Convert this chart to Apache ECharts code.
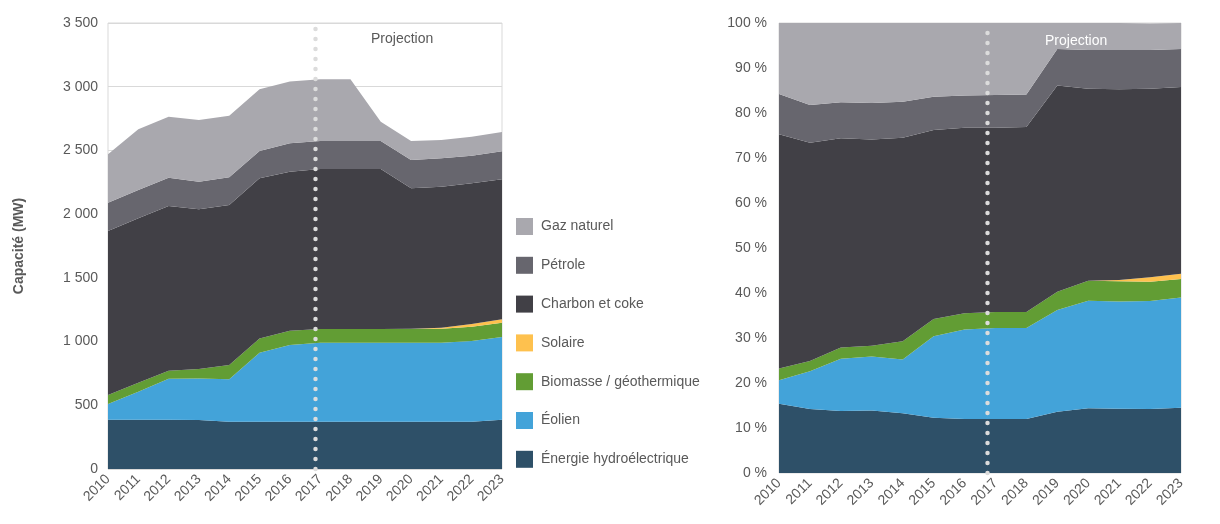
<!DOCTYPE html>
<html>
<head>
<meta charset="utf-8">
<script src="https://cdn.jsdelivr.net/npm/echarts@6/dist/echarts.min.js"></script>
<style>
	html, body { margin: 0; padding: 0; background: #fff; }
	#capaciteChart { width: 1220px; height: 524px; }
</style>
</head>
<body>
<div id="capaciteChart"></div>
<script>

var years = ['2010', '2011', '2012', '2013', '2014', '2015', '2016', '2017', '2018', '2019', '2020', '2021', '2022', '2023'];

// capacité en MW (graphique de gauche)
var hydro = [387, 387, 387, 385, 371, 371, 371, 371, 371, 371, 371, 371, 371, 387];
var eolien = [123, 220, 322, 326, 333, 542, 602, 619, 619, 619, 619, 619, 633, 649];
var biomasse = [71, 70, 62, 74, 112, 112, 112, 109, 109, 109, 110, 110, 113, 112];
var solaire = [0, 0, 0, 0, 0, 0, 0, 0, 0, 0, 0, 8, 20, 28];
var charbon = [1287, 1290, 1293, 1253, 1256, 1256, 1248, 1255, 1255, 1255, 1103, 1107, 1105, 1097];
var petrole = [222, 222, 222, 217, 217, 214, 223, 220, 220, 220, 222, 223, 217, 220];
var gaz = [380, 477, 479, 484, 484, 485, 484, 484, 484, 152, 149, 144, 149, 152];

// parts en % (graphique de droite)
var hydroPct = [15.4, 14.2, 13.8, 13.9, 13.3, 12.3, 12.0, 12.0, 12.0, 13.6, 14.4, 14.3, 14.2, 14.5];
var eolienPct = [5.2, 8.4, 11.6, 12.0, 11.9, 18.1, 19.9, 20.2, 20.2, 22.6, 23.9, 23.8, 24.0, 24.5];
var biomassePct = [2.6, 2.3, 2.5, 2.4, 4.1, 3.8, 3.6, 3.6, 3.6, 4.1, 4.4, 4.5, 4.3, 4.1];
var solairePct = [0, 0, 0, 0, 0, 0, 0, 0, 0, 0, 0, 0.3, 1.0, 1.2];
var charbonPct = [52.1, 48.5, 46.5, 45.8, 45.2, 42.0, 41.2, 40.9, 41.1, 45.8, 42.7, 42.4, 41.9, 41.5];
var petrolePct = [8.9, 8.4, 8.0, 8.1, 8.0, 7.4, 7.2, 7.3, 7.2, 8.1, 8.6, 8.7, 8.6, 8.4];
var gazPct = [15.8, 18.2, 17.6, 17.8, 17.5, 16.4, 16.1, 16.0, 15.9, 5.8, 6.0, 6.0, 5.9, 5.8];

var seriesNames = ['Énergie hydroélectrique', 'Éolien', 'Biomasse / géothermique', 'Solaire', 'Charbon et coke', 'Pétrole', 'Gaz naturel'];
var seriesColors = ['#2e5068', '#43a3d9', '#629d34', '#fec14e', '#414046', '#67666e', '#a9a8ae'];

// position de la ligne pointillée (en années)
var projectionLeft = 2016.83;
var projectionRight = 2016.72;

var textColor = '#595959';
var fontName = '"Liberation Sans", Arial, sans-serif';

function milliers(v){
	return String(v).replace(/\B(?=(\d{3})+(?!\d))/g, ' ');
}

function buildSeries(dataList, axisIdx, stackName){
	var list = [];
	for (var i = 0; i < dataList.length; i++) {
		list.push({
			name: seriesNames[i],
			type: 'line',
			stack: stackName,
			xAxisIndex: axisIdx,
			yAxisIndex: axisIdx,
			showSymbol: false,
			symbol: 'none',
			lineStyle: { width: 0 },
			areaStyle: { color: seriesColors[i], opacity: 1 },
			itemStyle: { color: seriesColors[i] },
			data: dataList[i]
		});
	}
	return list;
}

// série vide sur un axe numérique caché, juste pour porter la ligne pointillée
function projectionSeries(xIdx, yIdx, projX){
	return {
		type: 'line',
		xAxisIndex: xIdx,
		yAxisIndex: yIdx,
		showSymbol: false,
		symbol: 'none',
		lineStyle: { width: 0 },
		z: 5,
		data: [[projX, 0]],
		markLine: {
			silent: true,
			symbol: 'none',
			label: { show: false },
			lineStyle: { color: '#dcdcdc', type: [0, 10], cap: 'round', width: 4.5, opacity: 1 },
			data: [{ xAxis: projX }]
		}
	};
}

function catAxis(idx){
	return {
		type: 'category',
		gridIndex: idx,
		data: years,
		boundaryGap: false,
		axisLine: { show: false },
		axisTick: { show: false },
		splitLine: { show: false },
		axisLabel: {
			interval: 0,
			rotate: 45,
			margin: 8,
			color: textColor,
			fontSize: 14,
			fontFamily: fontName
		}
	};
}

function hiddenAxis(idx){
	return { type: 'value', gridIndex: idx, min: 2010, max: 2023, show: false };
}

function getOption(){
	var option = {
		animation: false,
		textStyle: { fontFamily: fontName },
		color: seriesColors,
		legend: {
			orient: 'vertical',
			left: 511,
			top: 213,
			itemWidth: 17,
			itemHeight: 17,
			itemGap: 21.8,
			icon: 'rect',
			textStyle: { color: textColor, fontSize: 14, fontFamily: fontName, padding: [0, 0, 0, 3] },
			data: seriesNames.slice().reverse()
		},
		grid: [
			{ left: 108, right: 718, top: 23, bottom: 55, show: true, borderColor: '#d9d9d9', borderWidth: 1 },
			{ left: 779, right: 39, top: 23, bottom: 51, show: true, borderColor: '#d9d9d9', borderWidth: 1 }
		],
		xAxis: [catAxis(0), catAxis(1), hiddenAxis(0), hiddenAxis(1)],
		yAxis: [
			{
				type: 'value',
				gridIndex: 0,
				min: 0,
				max: 3500,
				interval: 500,
				name: 'Capacité (MW)',
				nameLocation: 'middle',
				nameRotate: 90,
				nameGap: 82,
				nameTextStyle: { color: textColor, fontSize: 14, fontWeight: 'bold', fontFamily: fontName },
				axisLine: { show: false },
				axisTick: { show: false },
				splitLine: { lineStyle: { color: '#d9d9d9' } },
				axisLabel: { color: textColor, fontSize: 14, margin: 10, fontFamily: fontName, formatter: milliers }
			},
			{
				type: 'value',
				gridIndex: 1,
				min: 0,
				max: 100,
				interval: 10,
				axisLine: { show: false },
				axisTick: { show: false },
				splitLine: { show: false },
				axisLabel: { color: textColor, fontSize: 14, margin: 12, fontFamily: fontName, formatter: function(v){ return v + ' %'; } }
			}
		],
		graphic: [
			{ type: 'text', left: 371, top: 32, style: { text: 'Projection', fill: textColor, font: '14px ' + fontName } },
			{ type: 'text', left: 1045, top: 34, z: 100, style: { text: 'Projection', fill: '#ffffff', font: '14px ' + fontName } }
		],
		series: buildSeries([hydro, eolien, biomasse, solaire, charbon, petrole, gaz], 0, 'mw')
			.concat(buildSeries([hydroPct, eolienPct, biomassePct, solairePct, charbonPct, petrolePct, gazPct], 1, 'pct'))
			.concat([projectionSeries(2, 0, projectionLeft), projectionSeries(3, 1, projectionRight)])
	};
	return option;
}

var dom = document.getElementById('capaciteChart');
var myChart = echarts.init(dom);
myChart.setOption(getOption());

</script>
</body>
</html>
